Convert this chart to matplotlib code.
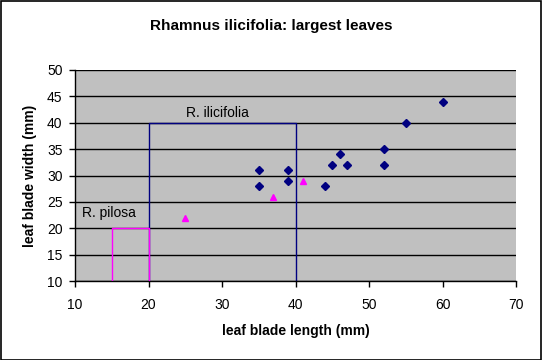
import matplotlib
matplotlib.use("Agg")
import matplotlib.pyplot as plt

plt.rcParams["font.family"] = ["Liberation Sans", "DejaVu Sans"]

# R. ilicifolia measurements
ilic_length = [35, 35, 39, 39, 44, 45, 46, 47, 52, 52, 55, 60]
ilic_width = [31, 28, 31, 29, 28, 32, 34, 32, 35, 32, 40, 44]

# R. pilosa measurements
pil_length = [25, 37, 41]
pil_width = [22, 26, 29]

# range boxes
ilic_box_x = [20, 20, 40, 40]
ilic_box_y = [10, 40, 40, 10]
pil_box_x = [15, 15, 20, 20]
pil_box_y = [10, 20, 20, 10]

BLUE = "#000080"
MAGENTA = "#FF00FF"

fig = plt.figure(figsize=(5.42, 3.6), dpi=100)
fig.patches.append(plt.Rectangle((0.001, 0.001), 0.997, 0.996, transform=fig.transFigure,
                                 fill=False, edgecolor="black", linewidth=1.2))
ax = fig.add_axes([0.1384, 0.2194, 0.8137, 0.5862])
ax.set_facecolor("#C0C0C0")

ax.set_xlim(10, 70)
ax.set_ylim(10, 50)
ax.set_xticks(range(10, 71, 10))
ax.set_yticks(range(10, 51, 5))
ax.yaxis.grid(True, color="black", linewidth=1.0)
ax.set_axisbelow(True)

for s in ["top", "right"]:
    ax.spines[s].set_visible(False)
ax.spines["left"].set_linewidth(1.0)
ax.spines["bottom"].set_linewidth(1.0)
ax.tick_params(direction="out", length=4, width=1, labelsize=10)
ax.tick_params(axis="x", pad=8)
ax.tick_params(axis="y", pad=5)

ax.plot(ilic_box_x, ilic_box_y, color=BLUE, linewidth=1, zorder=2)
ax.plot(pil_box_x, pil_box_y, color=MAGENTA, linewidth=1, zorder=3)

ax.plot(ilic_length, ilic_width, linestyle="none", marker="D", markersize=4.5,
        color=BLUE, zorder=4)
ax.plot(pil_length, pil_width, linestyle="none", marker="^", markersize=5,
        color=MAGENTA, zorder=4)

ax.text(29.4, 41.9, "R. ilicifolia", ha="center", va="center", fontsize=10)
ax.text(11.0, 22.9, "R. pilosa", ha="left", va="center", fontsize=10)

ax.set_xlabel("leaf blade length (mm)", fontsize=10, fontweight="bold", labelpad=9)
ax.set_ylabel("leaf blade width (mm)", fontsize=10, fontweight="bold", labelpad=7)
fig.text(0.5, 0.927, "Rhamnus ilicifolia: largest leaves", ha="center", va="center",
         fontsize=11, fontweight="bold")

fig.savefig("out.png", dpi=100)
